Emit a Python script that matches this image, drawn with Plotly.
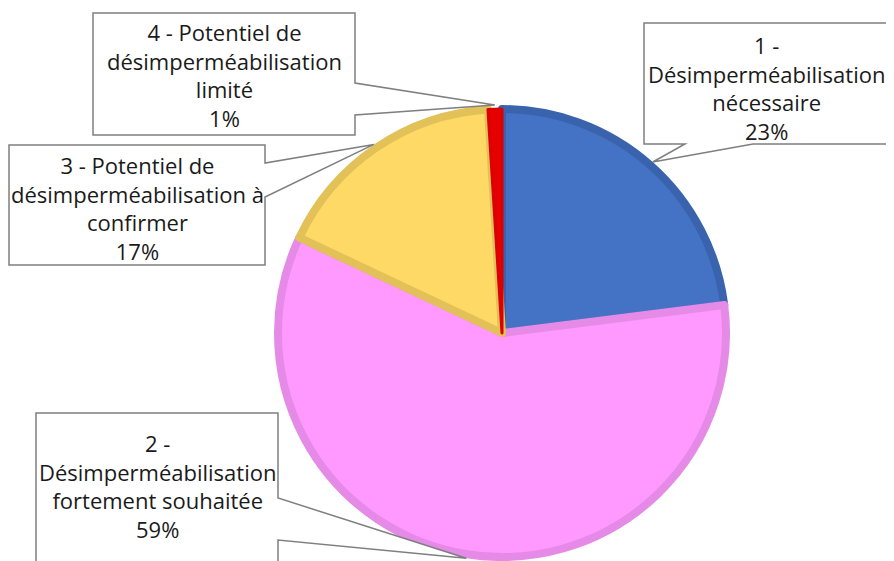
import math
import plotly.graph_objects as go

# ---- data ----
labels = [
    "1 - Désimperméabilisation nécessaire",
    "2 - Désimperméabilisation fortement souhaitée",
    "3 - Potentiel de désimperméabilisation à confirmer",
    "4 - Potentiel de désimperméabilisation limité",
]
values = [23, 59, 17, 1]
label_text = [
    "1 -<br>Désimperméabilisation<br>nécessaire<br>23%",
    "2 -<br>Désimperméabilisation<br>fortement souhaitée<br>59%",
    "3 - Potentiel de<br>désimperméabilisation à<br>confirmer<br>17%",
    "4 - Potentiel de<br>désimperméabilisation<br>limité<br>1%",
]
fill_colors = ["#4472C4", "#FF99FF", "#FFD966", "#E60000"]
edge_colors = ["#3A63AD", "#E58AE6", "#E3C159", "#DD0000"]
edge_widths = [8, 8, 8, 3]

# ---- layout (pixels in the 894x561 window; page body has an 8px margin) ----
OFF = 8
W, H = 894 - OFF, 561 - OFF
cx, cy, R = 502, 333, 228
LW = 8
r0 = R - LW / 2

def px(x):
    return (x - OFF) / W

def py(y):
    return 1 - (y - OFF) / H

fig = go.Figure(go.Pie(
    labels=labels,
    values=values,
    sort=False,
    direction="clockwise",
    rotation=0,
    textinfo="none",
    hoverinfo="label+percent",
    marker=dict(colors=fill_colors, line=dict(color=edge_colors, width=edge_widths)),
    domain=dict(x=[px(cx - r0), px(cx + r0)], y=[py(cy + r0), py(cy - r0)]),
    showlegend=False,
))

# callout boxes: (x0, y0, x1, y1, side, wedge a, wedge b, text center x, text center y)
boxes = [
    (644, 23, 900, 144, "bottom", 685, 753, 766, 88),
    (36, 413, 278, 600, "right", 498, 540, 157, 486),
    (9, 145, 265, 265, "right", 163, 197, 137, 208),
    (93, 13, 355, 135, "right", 83, 115, 224, 75),
]

total = sum(values)
cum = 0
shapes = []
annotations = []
for i, v in enumerate(values):
    mid = 2 * math.pi * (cum + v / 2) / total
    cum += v
    tx = cx + R * math.sin(mid)
    ty = cy - R * math.cos(mid)
    x0, y0, x1, y1, side, a, b, lx, ly = boxes[i]
    if side == "right":
        pts = [(x0, y0), (x1, y0), (x1, a), (tx, ty), (x1, b), (x1, y1), (x0, y1)]
    else:  # bottom
        pts = [(x0, y0), (x1, y0), (x1, y1), (b, y1), (tx, ty), (a, y1), (x0, y1)]
    path = "M " + " L ".join(f"{px(x):.5f},{py(y):.5f}" for x, y in pts) + " Z"
    shapes.append(dict(type="path", path=path, xref="paper", yref="paper",
                       fillcolor="white", line=dict(color="#7F7F7F", width=1.5),
                       layer="above"))
    annotations.append(dict(text=label_text[i], x=px(lx), y=py(ly), xref="paper", yref="paper",
                            xanchor="center", yanchor="middle", align="center",
                            showarrow=False,
                            font=dict(family="'Open Sans', Lato, sans-serif", size=22, color="#1A1A1A")))

fig.update_layout(
    width=W, height=H,
    margin=dict(l=0, r=0, t=0, b=0),
    paper_bgcolor="white", plot_bgcolor="white",
    shapes=shapes,
    annotations=annotations,
)

fig.write_html("out.html")
